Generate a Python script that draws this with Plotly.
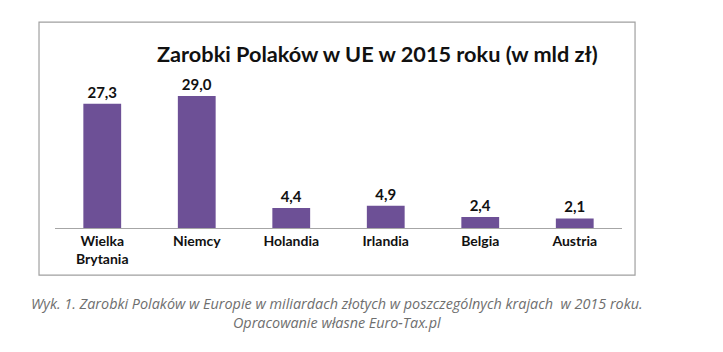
import plotly.graph_objects as go

countries = ["Wielka<br>Brytania", "Niemcy", "Holandia", "Irlandia", "Belgia", "Austria"]
values = [27.3, 29.0, 4.4, 4.9, 2.4, 2.1]
labels = [f"{v:.1f}".replace(".", ",") for v in values]

title_text = "Zarobki Polaków w UE w 2015 roku (w mld zł)"
caption_text = ("Wyk. 1. Zarobki Polaków w Europie w miliardach złotych w poszczególnych krajach  w 2015 roku.<br>"
                "Opracowanie własne Euro-Tax.pl")

FONT = "Lato"

fig = go.Figure()
fig.add_trace(go.Bar(
    x=countries, y=values, text=labels, textposition="outside",
    textfont=dict(family=FONT, size=15, color="#111111", weight="bold"),
    marker=dict(color="#6d5096", line=dict(width=0)),
    cliponaxis=False,
))

fig.update_layout(
    width=723, height=352,
    margin=dict(l=55, r=101, t=60, b=124),
    paper_bgcolor="white", plot_bgcolor="white",
    bargap=0.6,
    showlegend=False,
    font=dict(family=FONT),
    xaxis=dict(showline=True, linecolor="#a6a6a6", linewidth=1, ticks="",
               tickfont=dict(family=FONT, size=14, color="#111111", weight="bold"),
               showgrid=False, fixedrange=True),
    yaxis=dict(visible=False, range=[0, 36.9], showgrid=False, fixedrange=True),
)

fig.add_annotation(text=title_text, xref="paper", yref="paper", x=0.568, y=1.036,
                   showarrow=False, xanchor="center", yanchor="middle",
                   font=dict(family=FONT, size=21.7, color="#111111", weight="bold"))

fig.add_annotation(text=caption_text, xref="paper", yref="paper", x=0.497, y=-0.503,
                   showarrow=False, xanchor="center", yanchor="middle", align="center",
                   font=dict(family="Open Sans", size=14.4, color="#6e6e6e", style="italic"))

fig.add_shape(type="rect", xref="paper", yref="paper", x0=-0.0282, x1=1.023, y0=-0.280, y1=1.226,
              line=dict(color="#a0a0a0", width=1.2), fillcolor="rgba(0,0,0,0)", layer="below")

fig.write_html("out.html")
